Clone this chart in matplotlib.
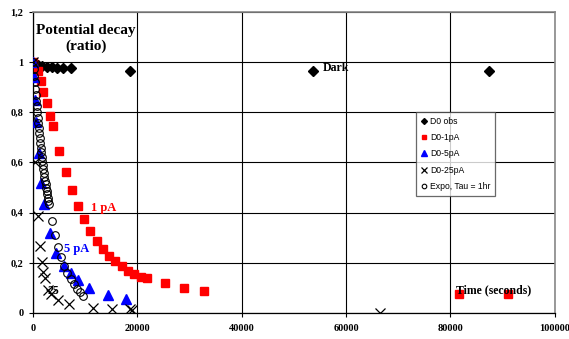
import matplotlib
matplotlib.use("Agg")
import matplotlib.pyplot as plt
from matplotlib.ticker import FuncFormatter

# ---- data ----
obs_t = [0, 960, 1720, 2680, 3640, 4600, 5750, 7280, 18600, 53650, 87400]
obs_v = [0.995, 0.99, 0.985, 0.982, 0.98, 0.978, 0.976, 0.975, 0.965, 0.965, 0.965]

pa1_t = [0, 1000, 1500, 2000, 2700, 3300, 3800, 5000, 6300, 7500, 8600, 9800,
         10900, 12300, 13400, 14600, 15700, 17100, 18200, 19400, 20700, 21800,
         25300, 28900, 32800, 81600, 91000]
pa1_v = [1.0, 0.964, 0.924, 0.88, 0.836, 0.784, 0.744, 0.644, 0.564, 0.492, 0.428,
         0.376, 0.328, 0.288, 0.256, 0.228, 0.208, 0.188, 0.168, 0.156, 0.144,
         0.14, 0.12, 0.10, 0.088, 0.076, 0.076]

pa5_t = [0, 100, 300, 600, 1100, 1500, 2100, 3200, 4500, 5900, 7300, 8600,
         10700, 14400, 17800]
pa5_v = [1.0, 0.94, 0.85, 0.76, 0.636, 0.52, 0.436, 0.32, 0.24, 0.188, 0.16,
         0.132, 0.10, 0.072, 0.056]

pa25_t = [0, 380, 960, 1340, 1720, 1920, 2300, 2870, 3450, 4790, 6900, 11500,
          15140, 18590, 18970, 66500]
pa25_v = [1.0, 0.6, 0.388, 0.268, 0.204, 0.164, 0.14, 0.092, 0.076, 0.052,
          0.036, 0.02, 0.016, 0.016, 0.012, 0.0]

expo_t = [0, 100, 200, 300, 400, 500, 600, 700, 800, 900, 1000, 1100, 1200,
          1300, 1400, 1500, 1600, 1700, 1800, 1900, 2000, 2100, 2200, 2300,
          2400, 2500, 2600, 2700, 2800, 2900, 3000, 3600, 4200, 4800, 5400,
          6000, 6600, 7200, 7800, 8400, 9000, 9600]
expo_v = [1.0, 0.9726, 0.946, 0.92, 0.8948, 0.8703, 0.8465, 0.8233, 0.8007,
          0.7788, 0.7575, 0.7367, 0.7165, 0.6969, 0.6778, 0.6592, 0.6412,
          0.6236, 0.6065, 0.5899, 0.5738, 0.558, 0.5427, 0.5279, 0.5134,
          0.4994, 0.4857, 0.4724, 0.4594, 0.4469, 0.4346, 0.3679, 0.3114,
          0.2636, 0.2231, 0.1889, 0.1599, 0.1353, 0.1146, 0.097, 0.0821,
          0.0695]

series_labels = ["D0 obs", "D0-1pA", "D0-5pA", "D0-25pA", "Expo, Tau = 1hr"]
x_ticks = [0, 20000, 40000, 60000, 80000, 100000]
y_ticks = [0, 0.2, 0.4, 0.6, 0.8, 1.0, 1.2]

# ---- figure ----
fig = plt.figure(figsize=(5.69, 3.39), dpi=100)
ax = fig.add_axes([0.058, 0.0767, 0.917, 0.888])

serif = "Liberation Serif"
sans = "Liberation Sans"

ax.plot(obs_t, obs_v, linestyle="none", marker="D", ms=5, color="black",
        label=series_labels[0], zorder=3)
ax.plot(pa1_t, pa1_v, linestyle="none", marker="s", ms=6, color="#ff0000",
        mec="#ff0000", label=series_labels[1], zorder=3)
ax.plot(pa5_t, pa5_v, linestyle="none", marker="^", ms=6.5, color="#0000ff",
        label=series_labels[2], zorder=3)
ax.plot(pa25_t, pa25_v, linestyle="none", marker="x", ms=6.5, mew=0.9,
        color="black", label=series_labels[3], zorder=3)
ax.plot(expo_t, expo_v, linestyle="none", marker="o", ms=5.5, mfc="none",
        mec="black", mew=0.8, label=series_labels[4], zorder=3)

ax.set_xlim(0, 100000)
ax.set_ylim(0, 1.2)
ax.set_xticks(x_ticks)
ax.set_yticks(y_ticks)
ax.xaxis.set_major_formatter(FuncFormatter(lambda v, p: f"{int(v)}"))
ax.yaxis.set_major_formatter(
    FuncFormatter(lambda v, p: f"{v:g}".replace(".", ",")))
for lab in ax.get_xticklabels() + ax.get_yticklabels():
    lab.set_fontfamily(serif)
    lab.set_fontweight("bold")
    lab.set_fontsize(7.5)
ax.tick_params(axis="both", length=3, width=0.8, direction="out", pad=4)
ax.tick_params(axis="x", pad=5)

ax.grid(True, color="black", linewidth=0.8)
ax.set_axisbelow(True)
for s in ["top", "right"]:
    ax.spines[s].set_color("#888888")
    ax.spines[s].set_linewidth(1.2)
for s in ["left", "bottom"]:
    ax.spines[s].set_color("black")
    ax.spines[s].set_linewidth(0.9)

ax.text(10200, 1.094, "Potential decay\n(ratio)", ha="center", va="center",
        fontfamily=serif, fontweight="bold", fontsize=11, linespacing=1.2)
ax.text(55500, 0.978, "Dark", ha="left", va="center", fontfamily=serif,
        fontweight="bold", fontsize=8.5)
ax.text(13600, 0.42, "1 pA", ha="center", va="center", fontfamily=serif,
        fontweight="bold", fontsize=9, color="#ff0000")
ax.text(8400, 0.256, "5 pA", ha="center", va="center", fontfamily=serif,
        fontweight="bold", fontsize=9, color="#0000ff")
ax.text(3900, 0.088, "25", ha="center", va="center", fontfamily=serif,
        fontweight="bold", fontsize=8.5, color="black")
ax.text(88300, 0.092, "Time (seconds)", ha="center", va="center",
        fontfamily=serif, fontweight="bold", fontsize=8.5)

leg = ax.legend(loc="upper left", bbox_to_anchor=(0.734, 0.669),
                prop={"family": sans, "size": 6.2}, markerscale=0.6,
                frameon=True, fancybox=False, shadow=False, handlelength=0.6,
                handletextpad=0.4, labelspacing=0.85, borderpad=0.6,
                borderaxespad=0)
leg.get_frame().set_edgecolor("#444444")
leg.get_frame().set_linewidth(0.9)
leg.get_frame().set_facecolor("white")
leg.set_zorder(5)

fig.savefig("out.png", dpi=100)
